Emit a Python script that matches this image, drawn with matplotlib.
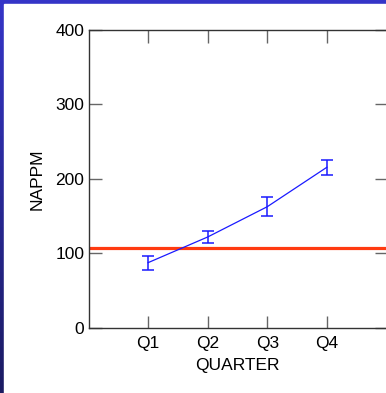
import numpy as np
import matplotlib
matplotlib.use("Agg")
import matplotlib.pyplot as plt
from matplotlib.patches import Rectangle
from matplotlib.colors import LinearSegmentedColormap

quarters = ["Q1", "Q2", "Q3", "Q4"]
nappm = [87.4, 121.9, 162.6, 215.6]
nappm_err = [9.6, 8.7, 12.5, 9.8]
reference_level = 107.1

plt.rcParams["font.family"] = ["Liberation Sans", "DejaVu Sans"]

W, H, DPI = 386, 393, 100
fig = plt.figure(figsize=(W / DPI, H / DPI), dpi=DPI)

# Slide-style backdrop: blue frame fading darker toward the bottom, white panel
bg = fig.add_axes([0, 0, 1, 1], zorder=-10)
bg.set_axis_off()
grad = np.linspace(0, 1, 256).reshape(-1, 1)
cmap = LinearSegmentedColormap.from_list("frame", ["#3535c8", "#1b1b62"])
bg.imshow(grad, aspect="auto", cmap=cmap, extent=[0, 1, 0, 1], origin="upper")
bg.set_xlim(0, 1)
bg.set_ylim(0, 1)
bg.add_patch(Rectangle((4 / W, 0), 1, 1 - 4 / H, color="white", transform=bg.transAxes))

left, right = 88.5 / W, 386.5 / W
bottom, top = 1 - 327.7 / H, 1 - 30 / H
ax = fig.add_axes([left, bottom, right - left, top - bottom])
ax.set_facecolor("white")

x = np.arange(1, len(quarters) + 1)
ax.axhline(reference_level, color="#ff3a10", lw=2.3, zorder=2)
ax.errorbar(x, nappm, yerr=nappm_err, color="#1a1aff", lw=0.9, elinewidth=1.1,
            capsize=4, capthick=1.1, zorder=3)

ax.set_xlim(0, 5)
ax.set_ylim(0, 400)
ax.set_xticks(x)
ax.set_xticklabels(quarters)
ax.set_yticks([0, 100, 200, 300, 400])

for s in ax.spines.values():
    s.set_color("#333333")
    s.set_linewidth(1.0)

ax.tick_params(direction="in", length=9, width=1, color="#666666",
               labelsize=12.5, top=True, right=True, pad=3, labelcolor="black")
ax.tick_params(axis="x", pad=6)

ax.set_xlabel("QUARTER", fontsize=12.5, labelpad=5)
ax.set_ylabel("NAPPM", fontsize=12.5, labelpad=8)

fig.savefig("out.png", dpi=DPI)
